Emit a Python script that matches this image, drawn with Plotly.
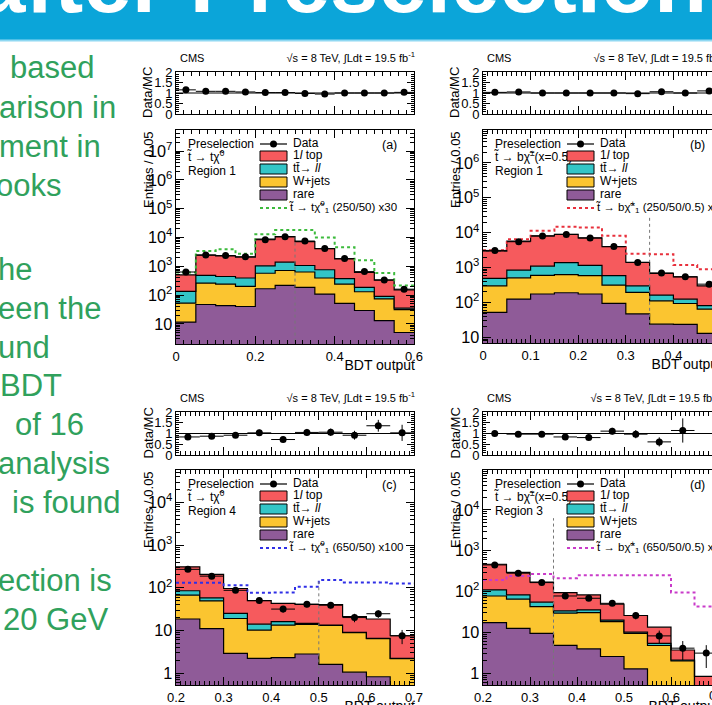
import numpy as np
import plotly.graph_objects as go

W, H = 712, 705
FONT = "Liberation Sans, Arial, Helvetica, sans-serif"

# ----------------------------- data -----------------------------
# panel (a): stop -> top neutralino, Region 1
bins_a = [0.0, 0.05, 0.1, 0.15, 0.2, 0.25, 0.3, 0.35, 0.4, 0.45, 0.5, 0.55, 0.6]
a_rare = [11.5, 47, 43, 40, 165, 215, 185, 108, 51, 29, 13, 5]
a_wjets = [41, 213, 197, 160, 405, 495, 445, 282, 189, 101, 60, 26]
a_ttll = [82, 220, 200, 190, 460, 670, 430, 365, 130, 55, 17, 4]
a_top1l = [365, 1970, 1860, 1660, 7670, 9320, 6140, 3345, 1430, 425, 240, 115]
a_data = [630, 2450, 2350, 2150, 8300, 10500, 7500, 4100, 1850, 650, 335, 160]
a_signal = [600, 3400, 3900, 2700, 13000, 18000, 18000, 10000, 4550, 1600, 580, 215]
a_ratio = [1.15, 1.08, 1.08, 1.05, 1.02, 1.02, 0.98, 0.95, 1.0, 1.0, 1.0, 1.03]
a_cut = [0.3, 10700]

# panel (b): stop -> b chargino (x=0.5), Region 1
bins_b = [0.0, 0.05, 0.1, 0.15, 0.2, 0.25, 0.3, 0.35, 0.4, 0.45, 0.5]
b_rare = [52, 125, 175, 190, 175, 94, 47, 24, 23.5, 13]
b_wjets = [248, 385, 425, 440, 415, 221, 148, 88, 70, 52]
b_ttll = [190, 340, 500, 750, 560, 275, 105, 51, 31, 16]
b_top1l = [2460, 4900, 7000, 7520, 5950, 3410, 1120, 517, 420, 219]
b_data = [3100, 5500, 8000, 8900, 7000, 4000, 1400, 700, 545, 335]
b_signal = [3150, 6500, 11300, 14800, 14100, 8100, 2500, 2400, 1180, 890]
b_ratio = [1.03, 1.05, 1.0, 1.0, 1.0, 1.0, 0.97, 1.06, 1.0, 1.1]
b_cut = [0.35, 29000]

# panel (c): stop -> top neutralino, Region 4
bins_c = [0.2, 0.25, 0.3, 0.35, 0.4, 0.45, 0.5, 0.55, 0.6, 0.65, 0.7]
c_rare = [18.5, 11, 2.9, 2.2, 2.3, 2.8, 1.6, 1.05, 0.82, 0.4]
c_wjets = [48.5, 38, 16.1, 8.0, 11.0, 11.0, 11.5, 7.75, 5.58, 1.77]
c_ttll = [18, 9, 6, 3.8, 2.7, 0.8, 0.2, 0.2, 0.1, 0.03]
c_top1l = [225, 147, 71, 36, 27, 26, 26.7, 12, 12, 5.3]
c_data = [270, 187, 87, 50, 31.6, 41, 39, 20, 24.6, 7.5]
c_signal = [131, 131, 115, 76, 77, 106, 151, 133, 133, 126]
c_ratio = [0.84, 0.875, 0.92, 1.03, 0.72, 1.05, 1.06, 0.92, 1.36, 1.03]
c_cut = [0.5, 140]

# panel (d): stop -> b chargino (x=0.5), Region 3
bins_d = [0.2, 0.25, 0.3, 0.35, 0.4, 0.45, 0.5, 0.55, 0.6, 0.65, 0.7]
d_rare = [17.4, 12.6, 9.5, 4.8, 3.95, 2.56, 1.28, 0.2, 0.1, 0.05]
d_wjets = [60.6, 52.4, 33.5, 24.7, 26.65, 15.84, 8.22, 4.56, 1.9, 0.35]
d_ttll = [32, 18, 12, 4.2, 4.9, 1.6, 0.6, 0.64, 0.1, 0.02]
d_top1l = [357, 213, 115, 60.3, 47.5, 29, 15.8, 8.0, 1.6, 0.41]
d_data = [450, 282, 166, 78, 68.6, 51.6, 25.9, 8.2, 4.1, 3.1]
d_signal = [193, 240, 270, 212, 251, 251, 251, 251, 95, 43]
d_ratio = [1.0, 0.97, 0.97, 0.84, 0.81, 1.11, 0.97, 0.61, 1.14, None]
d_cut = [0.35, 6300]

legend_names = ["Data", "1<i>l</i> top", "tt\u0304\u2192 <i>ll</i>", "W+jets", "rare"]
title_text = "after Preselection"
side_lines = [  # visible fragments of the slide text (cut off at the left)
    ("based", 10, 70), ("arison in", -1, 110), ("ment in", -1, 149), ("ooks", -4, 188),
    ("he", -2, 272), ("een the", -2, 311), ("und", -2, 350), ("BDT", 0, 388),
    ("of 16", 15, 427), ("analysis", -2, 466), ("is found", 12, 505),
    ("ection is", -2, 583), ("20 GeV", 3, 622),
]

# ----------------------------- style -----------------------------
C_TOP, C_TT, C_W, C_RARE = "#F65A5D", "#33C5C7", "#FBC530", "#8F5B98"

panels = [
    dict(left=176, rtop=72, rbot=114, mtop=130, mbot=344, width=238, bins=bins_a,
         rare=a_rare, wjets=a_wjets, ttll=a_ttll, top=a_top1l, data=a_data, sig=a_signal,
         ratio=a_ratio, cut=a_cut, yr=[0.3, 7.73], xdt=0.2, xmin=0.02, sigcol="#3DBB3D",
         decay="t\u0303 \u2192 t\u03c7\u0303<sup>0</sup>", region="Region 1", tag="(a)",
         siglab="t\u0303 \u2192 t\u03c7\u0303<sup>0</sup><sub>1</sub> (250/50) x30"),
    dict(left=483, rtop=72, rbot=114, mtop=130, mbot=343, width=238, bins=bins_b,
         rare=b_rare, wjets=b_wjets, ttll=b_ttll, top=b_top1l, data=b_data, sig=b_signal,
         ratio=b_ratio, cut=b_cut, yr=[0.84, 6.94], xdt=0.1, xmin=0.01, sigcol="#E8303C",
         decay="t\u0303 \u2192 b\u03c7\u0303<sup>\u00b1</sup>(x=0.5)", region="Region 1", tag="(b)",
         siglab="t\u0303 \u2192 b\u03c7\u0303<sup>\u00b1</sup><sub>1</sub> (250/50/0.5) x30"),
    dict(left=176, rtop=412, rbot=455, mtop=470, mbot=685, width=238, bins=bins_c,
         rare=c_rare, wjets=c_wjets, ttll=c_ttll, top=c_top1l, data=c_data, sig=c_signal,
         ratio=c_ratio, cut=c_cut, yr=[-0.28, 4.76], xdt=0.1, xmin=0.01, sigcol="#2F2FE6",
         decay="t\u0303 \u2192 t\u03c7\u0303<sup>0</sup>", region="Region 4", tag="(c)",
         siglab="t\u0303 \u2192 t\u03c7\u0303<sup>0</sup><sub>1</sub> (650/50) x100"),
    dict(left=483, rtop=412, rbot=455, mtop=470, mbot=685, width=235, bins=bins_d,
         rare=d_rare, wjets=d_wjets, ttll=d_ttll, top=d_top1l, data=d_data, sig=d_signal,
         ratio=d_ratio, cut=d_cut, yr=[-0.29, 4.98], xdt=0.1, xmin=0.01, sigcol="#C93BC9",
         decay="t\u0303 \u2192 b\u03c7\u0303<sup>\u00b1</sup>(x=0.5)", region="Region 3", tag="(d)",
         siglab="t\u0303 \u2192 b\u03c7\u0303<sup>\u00b1</sup><sub>1</sub> (650/50/0.5) x100"),
]


def X(px):
    return px / W


def Y(py):
    return 1 - py / H


fig = go.Figure()
layout = {}
shapes = []
anns = []
texts = dict(x=[], y=[], text=[], pos=[], size=[], color=[])


def ann(text, x, y, size=12, color="black", angle=0):
    """centre-anchored annotation (used for rotated / centred labels)"""
    anns.append(dict(text=text, x=X(x), y=Y(y), xref="paper", yref="paper", showarrow=False,
                     xanchor="center", yanchor="middle", textangle=angle,
                     font=dict(family=FONT, size=size, color=color)))


def txt(text, x, y, size=12, side="left", color="black"):
    """text starting (side='left') or ending (side='right') at pixel x, centred on pixel y"""
    texts["x"].append(x)
    texts["y"].append(y)
    texts["text"].append(text)
    texts["pos"].append("middle right" if side == "left" else "middle left")
    texts["size"].append(size)
    texts["color"].append(color)


def axname(n):
    return ("x" if n == 1 else f"x{n}"), ("y" if n == 1 else f"y{n}")


for i, p in enumerate(panels):
    nr, nm = 2 * i + 1, 2 * i + 2
    xr_id, yr_id = axname(nr)
    xm_id, ym_id = axname(nm)
    edges = np.array(p["bins"], dtype=float)
    x0, x1 = edges[0], edges[-1]
    pxu = p["width"] / (x1 - x0)
    right = p["left"] + p["width"]
    clipped = right > W
    if clipped:
        x1v = x0 + (W - p["left"]) / pxu
        dom_x = [p["left"] / W, 1.0]
    else:
        x1v = x1
        dom_x = [p["left"] / W, right / W]

    base_ax = dict(showline=True, linecolor="black", linewidth=1, ticks="inside",
                   tickcolor="black", showgrid=False, zeroline=False, automargin=False,
                   tickfont=dict(family=FONT, size=13, color="black"))
    xcommon = dict(base_ax, range=[x0, x1v], domain=dom_x, mirror="ticks", ticklen=8,
                   tick0=x0, dtick=p["xdt"],
                   minor=dict(ticks="inside", ticklen=4, dtick=p["xmin"], tick0=x0,
                              tickcolor="black", showgrid=False))
    ymirror = False if clipped else "ticks"

    # ratio pad axes
    layout["xaxis" if nr == 1 else f"xaxis{nr}"] = dict(xcommon, anchor=yr_id, showticklabels=False)
    layout[f"yaxis{nr}" if nr > 1 else "yaxis"] = dict(
        base_ax, range=[0, 2], dtick=0.5, ticklen=7, mirror=ymirror, anchor=xr_id,
        domain=[Y(p["rbot"]), Y(p["rtop"])], tickfont=dict(family=FONT, size=13, color="black"),
        minor=dict(ticks="inside", ticklen=3, dtick=0.1, tickcolor="black", showgrid=False))
    # main pad axes
    layout[f"xaxis{nm}"] = dict(xcommon, anchor=ym_id)
    layout[f"yaxis{nm}"] = dict(
        base_ax, type="log", range=p["yr"], dtick=1, exponentformat="power", ticklen=8,
        mirror=ymirror, anchor=xm_id, domain=[Y(p["mbot"]), Y(p["mtop"])],
        minor=dict(ticks="inside", ticklen=4, dtick="D1", tickcolor="black", showgrid=False))

    # ---- stacked histogram ----
    xs = list(edges[:-1]) + [edges[-1]]

    def step(v):
        v = list(v)
        return v + [v[-1]]

    floor = 10 ** (p["yr"][0] - 2)
    cum1 = np.array(p["rare"], dtype=float)
    cum2 = cum1 + np.array(p["wjets"], dtype=float)
    cum3 = cum2 + np.array(p["ttll"], dtype=float)
    cum4 = cum3 + np.array(p["top"], dtype=float)
    fig.add_trace(go.Scatter(x=xs, y=step([floor] * len(cum1)), mode="lines", line=dict(width=0),
                             line_shape="hv", xaxis=xm_id, yaxis=ym_id, showlegend=False, hoverinfo="skip"))
    for cum, col in [(cum1, C_RARE), (cum2, C_W), (cum3, C_TT), (cum4, C_TOP)]:
        fig.add_trace(go.Scatter(x=xs, y=step(cum), mode="lines", line=dict(color="black", width=1.2),
                                 line_shape="hv", fill="tonexty", fillcolor=col,
                                 xaxis=xm_id, yaxis=ym_id, showlegend=False))
    # signal
    fig.add_trace(go.Scatter(x=xs, y=step(p["sig"]), mode="lines", line_shape="hv",
                             line=dict(color=p["sigcol"], width=2, dash="dot"),
                             xaxis=xm_id, yaxis=ym_id, showlegend=False))
    # cut line
    fig.add_trace(go.Scatter(x=[p["cut"][0], p["cut"][0]], y=[floor, p["cut"][1]], mode="lines",
                             line=dict(color="#777777", width=1, dash="dot"),
                             xaxis=xm_id, yaxis=ym_id, showlegend=False))
    # data
    centers = (edges[:-1] + edges[1:]) / 2
    halfw = (edges[1:] - edges[:-1]) / 2
    dat = np.array(p["data"], dtype=float)
    fig.add_trace(go.Scatter(x=centers, y=dat, mode="markers",
                             marker=dict(color="black", size=7),
                             error_x=dict(type="data", array=halfw, color="black", thickness=1, width=0),
                             error_y=dict(type="data", array=np.sqrt(dat), color="black", thickness=1, width=0),
                             xaxis=xm_id, yaxis=ym_id, showlegend=False))
    # ratio
    rat = np.array([np.nan if r is None else r for r in p["ratio"]], dtype=float)
    rerr = rat / np.sqrt(dat)
    fig.add_trace(go.Scatter(x=centers, y=rat, mode="markers",
                             marker=dict(color="black", size=7),
                             error_x=dict(type="data", array=halfw, color="black", thickness=1, width=0),
                             error_y=dict(type="data", array=rerr, color="black", thickness=1, width=0),
                             xaxis=xr_id, yaxis=yr_id, showlegend=False))
    shapes.append(dict(type="line", xref=f"{xr_id} domain", yref=yr_id, x0=0, x1=1, y0=1, y1=1,
                       line=dict(color="black", width=1), layer="below"))

    # ---- texts ----
    L, T = p["left"], p["mtop"]
    txt("CMS", L + 4, p["rtop"] - 13, size=11)
    txt("\u221as = 8 TeV, \u222bLdt = 19.5 fb<sup>-1</sup>", right + 1, p["rtop"] - 13, size=11, side="right")
    ann("Data/MC", L - 28, (p["rtop"] + p["rbot"]) / 2, size=13, angle=-90)
    ann("Entries / 0.05", L - 28, T + 40, size=13, angle=-90)
    txt("BDT output", right + 1, p["mbot"] + 22, size=14, side="right")
    if clipped:
        ann(f"{x1:.1f}", right, p["mbot"] + 10, size=13)
    txt("Preselection", L + 12, T + 15)
    txt(p["decay"], L + 12, T + 28)
    txt(p["region"], L + 12, T + 42)
    ann(p["tag"], L + 214, T + 15, size=12.5)

    # legend
    lx0, lx1 = L + 84, L + 111
    shapes.append(dict(type="line", xref="paper", yref="paper", x0=X(lx0), x1=X(lx1),
                       y0=Y(T + 14), y1=Y(T + 14), line=dict(color="black", width=1.2)))
    shapes.append(dict(type="circle", xref="paper", yref="paper", x0=X(L + 94), x1=X(L + 101),
                       y0=Y(T + 17.5), y1=Y(T + 10.5), fillcolor="black", line=dict(width=0)))
    txt(legend_names[0], L + 117, T + 14)
    for k, (col, name) in enumerate(zip([C_TOP, C_TT, C_W, C_RARE], legend_names[1:])):
        yc = T + 26 + 13 * k
        shapes.append(dict(type="rect", xref="paper", yref="paper", x0=X(lx0), x1=X(lx1),
                           y0=Y(yc + 5), y1=Y(yc - 5), fillcolor=col, line=dict(color="black", width=1)))
        txt(name, L + 117, yc)
    shapes.append(dict(type="line", xref="paper", yref="paper", x0=X(lx0), x1=X(lx1),
                       y0=Y(T + 78), y1=Y(T + 78), line=dict(color=p["sigcol"], width=2, dash="dot")))
    txt(p["siglab"], L + 114, T + 78, size=11.5)

# ---- slide decoration ----
shapes.insert(0, dict(type="rect", xref="paper", yref="paper", x0=0, x1=1, y0=Y(40), y1=1.0,
                      fillcolor="#0BA5D9", line=dict(width=0), layer="above"))
shapes.insert(1, dict(type="line", xref="paper", yref="paper", x0=0, x1=1, y0=Y(40.5), y1=Y(40.5),
                      line=dict(color="#8FD8F2", width=2), layer="above"))
anns.append(dict(text=f"<b>{title_text}</b>", x=X(342), y=Y(32), xref="paper", yref="paper",
                 showarrow=False, xanchor="center", yanchor="bottom",
                 font=dict(family=FONT, size=87, color="white")))
for t, lx, ly in side_lines:
    txt(t, lx, ly, size=31, color="#30A15C")

# full-page text overlay (pixel coordinates, clipped at the page edges)
layout["xaxis9"] = dict(domain=[0, 1], range=[0, W], visible=False, anchor="y9", fixedrange=True,
                        automargin=False)
layout["yaxis9"] = dict(domain=[0, 1], range=[H, 0], visible=False, anchor="x9", fixedrange=True,
                        automargin=False)
fig.add_trace(go.Scatter(x=texts["x"], y=texts["y"], text=texts["text"], mode="text",
                         textposition=texts["pos"], cliponaxis=True,
                         textfont=dict(family=FONT, size=texts["size"], color=texts["color"]),
                         xaxis="x9", yaxis="y9", showlegend=False, hoverinfo="skip"))

fig.update_layout(**layout)
fig.update_layout(width=W, height=H, autosize=False,
                  margin=dict(l=0, r=0, t=0, b=0, pad=0, autoexpand=False), showlegend=False,
                  paper_bgcolor="white", plot_bgcolor="rgba(0,0,0,0)",
                  shapes=shapes, annotations=anns, font=dict(family=FONT, color="black"))
fig.write_html("out.html",
               post_script="document.body.style.margin='0px'; document.body.style.overflow='hidden';")
